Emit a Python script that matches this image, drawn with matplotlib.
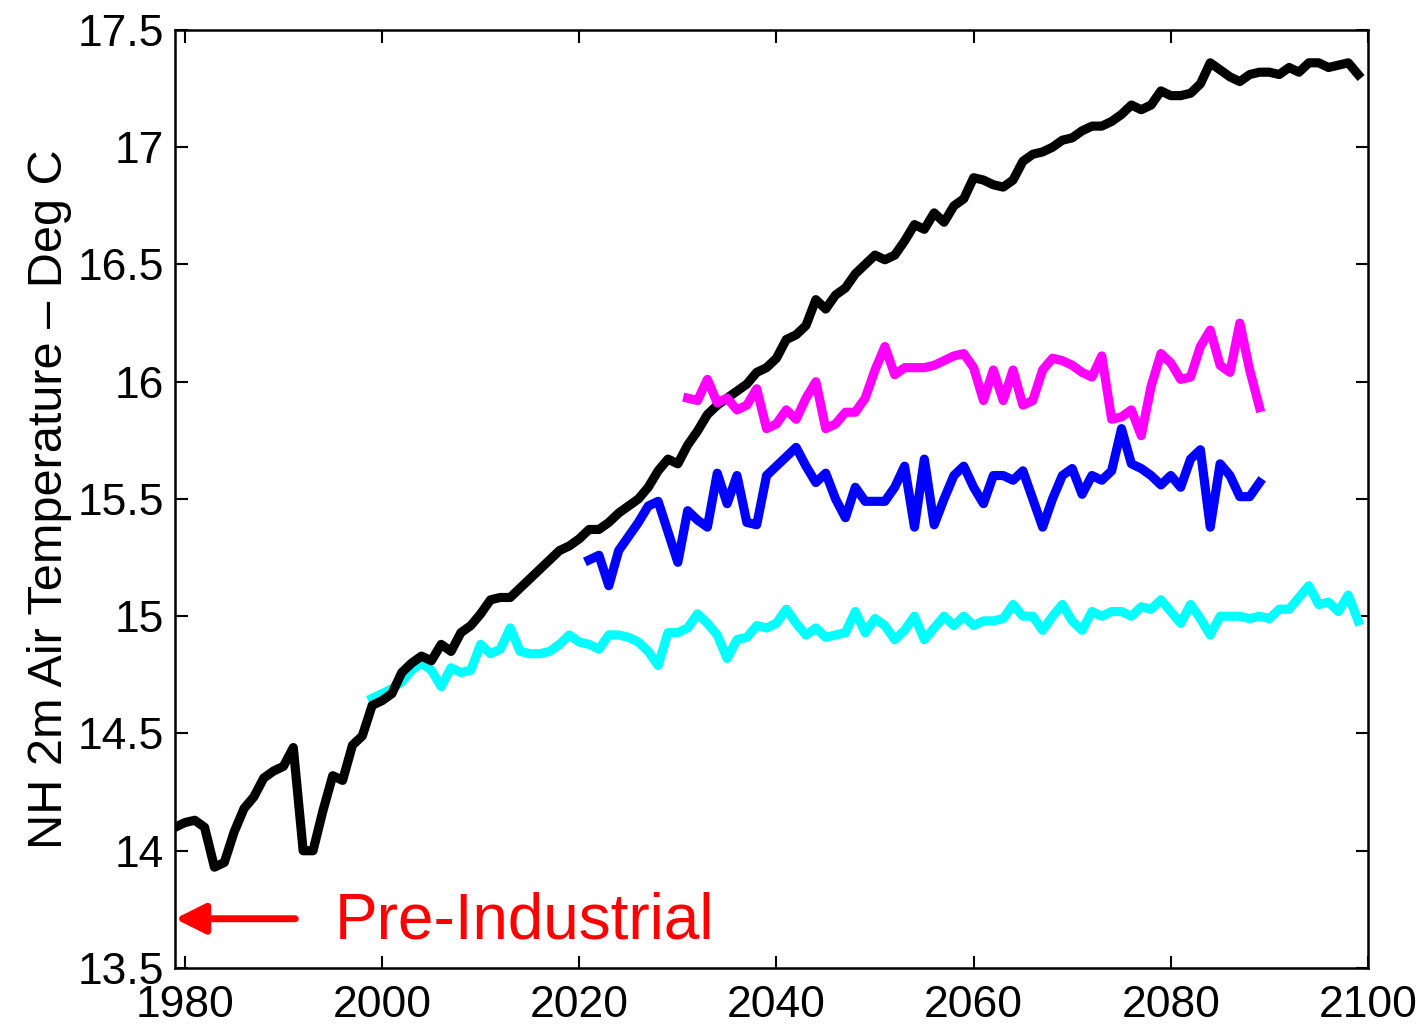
import numpy as np
import matplotlib
matplotlib.use("Agg")
import matplotlib.pyplot as plt

plt.rcParams['font.family'] = ['Liberation Sans', 'DejaVu Sans']

# ---- data ----
years_black = np.arange(1979, 2100)
temp_black = [
    14.10, 14.12, 14.13, 14.10, 13.93, 13.95, 14.08, 14.18, 14.23, 14.31,
    14.34, 14.36, 14.44, 14.00, 14.00, 14.17, 14.32, 14.30, 14.45, 14.49,
    14.62, 14.64, 14.67, 14.76, 14.80, 14.83, 14.81, 14.88, 14.85, 14.93,
    14.96, 15.01, 15.07, 15.08, 15.08, 15.12, 15.16, 15.20, 15.24, 15.28,
    15.30, 15.33, 15.37, 15.37, 15.40, 15.44, 15.47, 15.50, 15.55, 15.62,
    15.67, 15.65, 15.73, 15.79, 15.86, 15.90, 15.93, 15.96, 15.99, 16.04,
    16.06, 16.10, 16.18, 16.20, 16.24, 16.35, 16.31, 16.37, 16.40, 16.46,
    16.50, 16.54, 16.52, 16.54, 16.60, 16.67, 16.65, 16.72, 16.68, 16.75,
    16.78, 16.87, 16.86, 16.84, 16.83, 16.86, 16.94, 16.97, 16.98, 17.00,
    17.03, 17.04, 17.07, 17.09, 17.09, 17.11, 17.14, 17.18, 17.16, 17.18,
    17.24, 17.22, 17.22, 17.23, 17.27, 17.36, 17.33, 17.30, 17.28, 17.31,
    17.32, 17.32, 17.31, 17.34, 17.32, 17.36, 17.36, 17.34, 17.35, 17.36,
    17.31,
]

years_cyan = np.arange(1999, 2100)
temp_cyan = [
    14.65, 14.67, 14.69, 14.72, 14.77, 14.80, 14.77, 14.70, 14.78, 14.76,
    14.77, 14.88, 14.84, 14.86, 14.95, 14.85, 14.84, 14.84, 14.85, 14.88,
    14.92, 14.89, 14.88, 14.86, 14.92, 14.92, 14.91, 14.89, 14.85, 14.79,
    14.93, 14.93, 14.95, 15.01, 14.97, 14.92, 14.82, 14.90, 14.91, 14.96,
    14.95, 14.97, 15.03, 14.97, 14.92, 14.95, 14.91, 14.92, 14.93, 15.02,
    14.93, 14.99, 14.96, 14.90, 14.94, 15.00, 14.90, 14.95, 15.00, 14.96,
    15.00, 14.96, 14.98, 14.98, 14.99, 15.05, 15.00, 15.00, 14.94, 15.00,
    15.05, 14.98, 14.94, 15.02, 15.00, 15.02, 15.02, 15.00, 15.04, 15.03,
    15.07, 15.02, 14.97, 15.05, 14.99, 14.92, 15.00, 15.00, 15.00, 14.99,
    15.00, 14.99, 15.03, 15.03, 15.08, 15.13, 15.05, 15.06, 15.02, 15.09,
    14.98,
]

years_blue = np.arange(2021, 2090)
temp_blue = [
    15.24, 15.26, 15.13, 15.28, 15.34, 15.40, 15.47, 15.49, 15.36, 15.23,
    15.45, 15.41, 15.38, 15.61, 15.48, 15.60, 15.40, 15.39, 15.60, 15.64,
    15.68, 15.72, 15.64, 15.57, 15.61, 15.50, 15.42, 15.55, 15.49, 15.49,
    15.49, 15.55, 15.64, 15.38, 15.67, 15.39, 15.50, 15.60, 15.64, 15.55,
    15.48, 15.60, 15.60, 15.58, 15.62, 15.50, 15.38, 15.50, 15.60, 15.63,
    15.52, 15.60, 15.58, 15.62, 15.80, 15.65, 15.63, 15.60, 15.56, 15.60,
    15.55, 15.67, 15.71, 15.38, 15.65, 15.60, 15.51, 15.51, 15.57,
]

years_magenta = np.arange(2031, 2090)
temp_magenta = [
    15.93, 15.92, 16.01, 15.91, 15.93, 15.88, 15.90, 15.97, 15.80, 15.82,
    15.88, 15.84, 15.93, 16.00, 15.80, 15.82, 15.87, 15.87, 15.93, 16.05,
    16.15, 16.03, 16.06, 16.06, 16.06, 16.07, 16.09, 16.11, 16.12, 16.06,
    15.92, 16.05, 15.92, 16.05, 15.90, 15.92, 16.05, 16.10, 16.09, 16.07,
    16.04, 16.02, 16.11, 15.84, 15.85, 15.88, 15.77, 15.98, 16.12, 16.08,
    16.01, 16.02, 16.15, 16.22, 16.07, 16.04, 16.25, 16.05, 15.89,
]

x_ticks = [1980, 2000, 2020, 2040, 2060, 2080, 2100]
y_ticks = [13.5, 14, 14.5, 15, 15.5, 16, 16.5, 17, 17.5]
y_tick_labels = ["13.5", "14", "14.5", "15", "15.5", "16", "16.5", "17", "17.5"]

# ---- figure ----
fig = plt.figure(figsize=(14.25, 10.30), dpi=100)
ax = fig.add_axes([0.1228, 0.0602, 0.8372, 0.9107])

lw = 6.6
ax.plot(years_cyan, temp_cyan, color='#00FFFF', lw=lw, zorder=2)
ax.plot(years_black, temp_black, color='black', lw=lw, zorder=3)
ax.plot(years_magenta, temp_magenta, color='#FF00FF', lw=lw, zorder=4)
ax.plot(years_blue, temp_blue, color='#0000FF', lw=lw, zorder=5)

ax.set_xlim(1979, 2100)
ax.set_ylim(13.5, 17.5)
ax.set_xticks(x_ticks)
ax.set_yticks(y_ticks)
ax.set_yticklabels(y_tick_labels)
ax.tick_params(direction='in', length=9, width=1.5, top=True, right=True,
               labelsize=32)
ax.tick_params(axis='y', pad=8)
ax.tick_params(axis='x', pad=12)
for s in ax.spines.values():
    s.set_linewidth(1.8)

ax.set_ylabel("NH 2m Air Temperature \u2013 Deg C", fontsize=35, labelpad=4)

# Pre-Industrial annotation
ax.annotate("", xy=(1979, 13.71), xytext=(1991.2, 13.71),
            arrowprops=dict(arrowstyle='-|>,head_length=0.9,head_width=0.45',
                            color='red', lw=5, shrinkA=0, shrinkB=0,
                            mutation_scale=20),
            annotation_clip=False)
ax.text(1995.2, 13.70, "Pre-Industrial", color='red', fontsize=46,
        va='center', ha='left')

fig.savefig("out.png", dpi=100)
